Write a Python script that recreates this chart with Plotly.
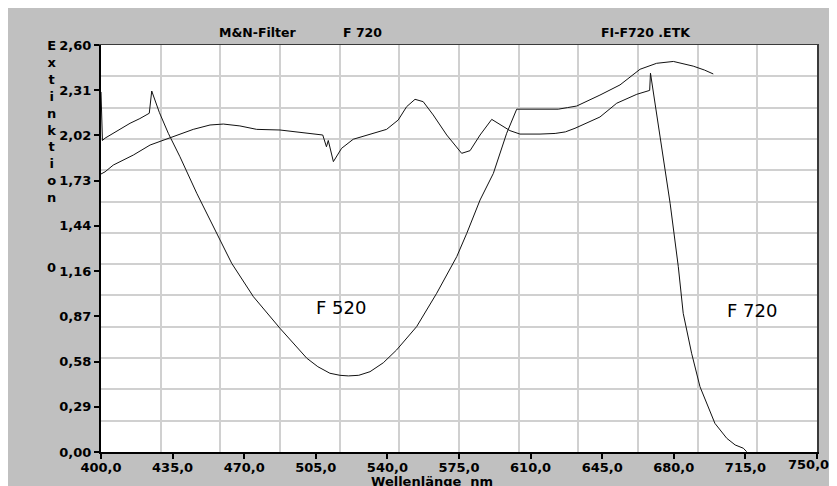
import plotly.graph_objects as go

# ---------------- data ----------------
f520_nm = [400.0, 400.7, 402, 406, 410, 414.2, 419, 423.6, 424.8, 428.5, 432.9, 438.6, 446.8,
           456.5, 463.9, 474.5, 487.5, 500.6, 506, 511.9, 516.8, 520.9, 526, 531.5, 538, 544.5,
           554.3, 564.1, 573.9, 578.8, 585.3, 591.8, 598.3, 603.2, 609.7, 623.5, 628, 632.5,
           643.9, 653.7, 663.5, 671.6, 679.8, 689.5, 695, 699.3]
f520_ext = [2.30, 1.99, 2.005, 2.036, 2.07, 2.10, 2.13, 2.164, 2.306, 2.17, 2.036, 1.886, 1.653,
            1.397, 1.205, 0.992, 0.790, 0.599, 0.545, 0.503, 0.49, 0.486, 0.49, 0.513, 0.57, 0.652,
            0.801, 1.014, 1.248, 1.397, 1.610, 1.780, 2.036, 2.19, 2.19, 2.19, 2.20, 2.21,
            2.28, 2.345, 2.445, 2.483, 2.495, 2.465, 2.44, 2.415]

f720_nm = [400, 402, 406, 415.8, 424, 434.6, 445.1, 453.3, 459.8, 467.9, 476.1, 487.5, 497.3,
           507.1, 508.4, 510.2, 511.1, 513.6, 517.6, 523.3, 529.9, 539.6, 545.3, 549.4, 553.5,
           557.5, 562.4, 569, 576.3, 580.4, 585.3, 591, 599.9, 604.8, 614.6, 622, 627, 631.7,
           643.9, 652.1, 661.9, 667.5, 668.2, 668.6, 673.3, 678.2, 682.2, 684.6, 688.7, 692.8,
           700.1, 705.9, 710, 714, 715.6]
f720_ext = [1.776, 1.79, 1.833, 1.897, 1.961, 2.010, 2.061, 2.089, 2.095, 2.083, 2.061, 2.057, 2.042,
            2.031, 2.025, 1.95, 1.99, 1.855, 1.94, 1.998, 2.025, 2.061, 2.121, 2.206, 2.253,
            2.238, 2.153, 2.025, 1.908, 1.925, 2.025, 2.125, 2.053, 2.031, 2.031, 2.035, 2.045, 2.068,
            2.14, 2.228, 2.285, 2.31, 2.31, 2.42, 2.014, 1.589, 1.184, 0.886, 0.631, 0.417,
            0.183, 0.0875, 0.045, 0.024, 0.002]

x_tickvals = [400, 435, 470, 505, 540, 575, 610, 645, 680, 715, 750]
x_ticktext = ["400,0", "435,0", "470,0", "505,0", "540,0", "575,0", "610,0", "645,0", "680,0", "715,0", "750,0"]
y_tickvals = [2.6 * i / 9 for i in range(10)]
y_ticktext = ["0,00", "0,29", "0,58", "0,87", "1,16", "1,44", "1,73", "2,02", "2,31", "2,60"]

title_left = "M&N-Filter"
title_mid = "F 720"
title_right = "FI-F720 .ETK"
x_title = "Wellenlänge \u00a0nm"
y_title = "Extinktion"
label_a = "F 520"
label_b = "F 720"

# ---------------- figure ----------------
# the page body has an 8px margin (white band at top/left), so the figure is 8px smaller
OFF = 8
W, H = 837 - OFF, 486 - OFF
ML, MR, MT, MB = 101 - OFF, 20, 45 - OFF, 34
PW, PH = W - ML - MR, H - MT - MB

def px_x(p):  # absolute window pixel -> paper x
    return (p - OFF - ML) / PW

def px_y(p):  # absolute window pixel -> paper y
    return (H - MB - (p - OFF)) / PH

BOLD = "DejaVu Sans"
fig = go.Figure()

fig.add_trace(go.Scatter(x=f520_nm, y=f520_ext, mode="lines",
                         line=dict(color="#111111", width=1), showlegend=False, hoverinfo="skip"))
fig.add_trace(go.Scatter(x=f720_nm, y=f720_ext, mode="lines",
                         line=dict(color="#111111", width=1), showlegend=False, hoverinfo="skip"))
# helper trace for the grid overlay axes
fig.add_trace(go.Scatter(x=[None], y=[None], xaxis="x2", yaxis="y2", mode="lines",
                         showlegend=False, hoverinfo="skip"))

tickfont = dict(family=BOLD, size=13, color="black", weight="bold")

# the last x tick label sits at the very right edge; it is drawn as a right-aligned text below
x_ticktext_axis = x_ticktext[:-1] + [""]

fig.update_layout(
    width=W, height=H,
    margin=dict(l=ML, r=MR, t=MT, b=MB, pad=0),
    paper_bgcolor="#C0C0C0",
    plot_bgcolor="white",
    showlegend=False,
    xaxis=dict(range=[400, 750], tickvals=x_tickvals, ticktext=x_ticktext_axis,
               showgrid=False, zeroline=False, showline=True, linecolor="black", linewidth=2,
               ticks="outside", ticklen=5, tickwidth=1.5, tickcolor="black",
               tickfont=tickfont, ticklabelstandoff=-3),
    yaxis=dict(range=[0, 2.6], tickvals=y_tickvals, ticktext=y_ticktext,
               showgrid=False, zeroline=False, showline=True, linecolor="black", linewidth=2,
               ticks="outside", ticklen=5, tickwidth=1.5, tickcolor="black",
               tickfont=tickfont),
    xaxis2=dict(range=[400, 750], overlaying="x", side="top", anchor="y2",
                tick0=400, dtick=350 / 12, showgrid=True, gridcolor="#D0D0D0", gridwidth=1.5,
                showticklabels=False, ticks="", zeroline=False,
                showline=True, linecolor="#3a3a3a", linewidth=1),
    yaxis2=dict(range=[0, 2.6], overlaying="y", side="right", anchor="x2",
                tick0=0, dtick=0.2, showgrid=True, gridcolor="#D0D0D0", gridwidth=1.5,
                showticklabels=False, ticks="", zeroline=False,
                showline=True, linecolor="#3a3a3a", linewidth=1.5),
)

fig.add_annotation(text=x_ticktext[-1], x=px_x(830), xref="paper", y=px_y(464), yref="paper",
                   showarrow=False, font=tickfont, xanchor="right", yanchor="middle",
                   borderpad=0)

tfont = dict(family=BOLD, size=12.5, color="black", weight="bold")
for txt, xv in [(title_left, 476.5), (title_mid, 527.6), (title_right, 666.6)]:
    fig.add_annotation(text=txt, x=xv, xref="x", y=px_y(33), yref="paper",
                       showarrow=False, font=tfont, xanchor="center", yanchor="middle")

fig.add_annotation(text="<br>".join(list(y_title)), x=px_x(51.5), xref="paper",
                   y=px_y(122), yref="paper", showarrow=False, align="center",
                   font=dict(family=BOLD, size=13, color="black", weight="bold"),
                   xanchor="center", yanchor="middle")
fig.add_annotation(text="0", x=px_x(51), xref="paper", y=px_y(267), yref="paper",
                   showarrow=False, font=dict(family=BOLD, size=13, color="black", weight="bold"),
                   xanchor="center", yanchor="middle")
fig.add_annotation(text=x_title, x=px_x(432), xref="paper", y=px_y(481), yref="paper",
                   showarrow=False, font=dict(family=BOLD, size=13, color="black", weight="bold"),
                   xanchor="center", yanchor="middle")

lfont = dict(family="DejaVu Sans", size=18, color="black")
fig.add_annotation(text=label_a, x=517.3, y=0.92, xref="x", yref="y", showarrow=False,
                   font=lfont, xanchor="center", yanchor="middle")
fig.add_annotation(text=label_b, x=718.2, y=0.907, xref="x", yref="y", showarrow=False,
                   font=lfont, xanchor="center", yanchor="middle")

fig.write_html("out.html")
